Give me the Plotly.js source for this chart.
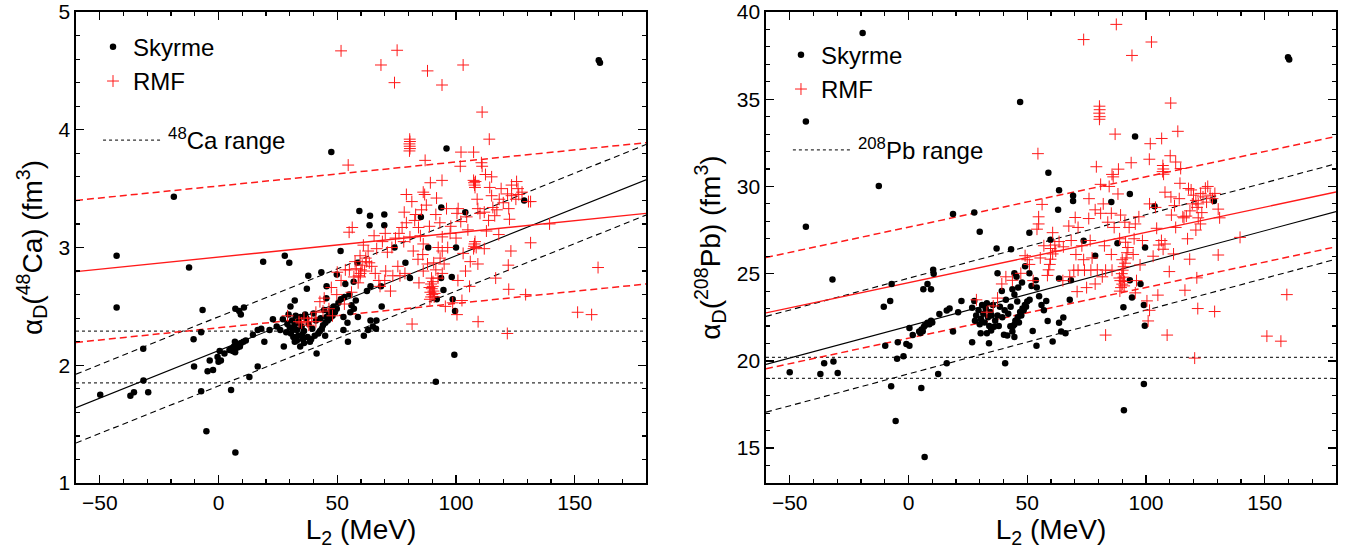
<!DOCTYPE html>
<html><head><meta charset="utf-8">
<script src="https://cdn.plot.ly/plotly-3.0.1.min.js"></script>
<style>html,body{margin:0;padding:0;background:#fff;}#chart{width:1355px;height:554px;}</style>
</head><body><div id="chart"></div>
<script>
// ---------- 48Ca panel data ----------
const caSkyX = [160.1,160.6,47.5,96,-18.8,-42.9,-42.9,-12.4,18.8,27.9,29.8,51.4,59.3,63.8,69.8,63.6,69.8,85.2,93.8,103.9,128.7,74.1,78.7,80.6,88.3,100,93.7,98.2,94.7,98.6,91.9,99.6,99.3,91.5,68.7,68.4,64,58.5,56.9,55.1,53.4,49.8,43.3,37.8,37.2,45.5,45.4,32.1,30.3,
-49.8,-37.1,-35.6,-31.6,-29.6,-31.7,-10.3,-10.5,-7.3,-6.7,-5.1,-7.3,-4.6,-2.3,-3.7,-0.4,0,1,0.5,2.5,5.3,7.1,6.9,4.6,7.1,9.4,10.7,8.7,
5.5,6.5,7.5,8.5,9.5,10.5,6,8,7,9,11.5,13,16.5,19.3,14.5,16.5,18,22.9,21.5,27.1,27.5,28.5,32.1,34.4,33,41.3,44.9,42.7,54.5,52.6,61.2,64,65,66.5,63,66.3,58.7,57,56,52.6,49.8,
49,48,47,46,45,44,48.5,47.5,46.5,45.5,
29,30,31,32,33,34,35,36,37,38,30.5,31.5,33.5,35.5,37.5,39,40.5,42,43.5,39.5,41,36.5,34.5,32.5,29.5,40,43,38.5,36,33.8,35.2,31.2,44.5,50.5,51.5,53,55.5,54.3,57.8,62.5,24.5,26];
const caSkyY = [4.59,4.57,3.81,3.84,3.43,2.93,2.49,2.83,2.88,2.93,2.87,2.97,3.31,3.27,3.28,3.19,3.19,3.26,3.34,3.30,3.40,3.00,2.87,2.74,3.00,3.00,2.74,2.75,2.64,2.56,2.56,2.46,2.09,1.86,2.50,2.67,2.67,2.87,2.71,2.60,2.69,2.77,2.79,2.76,2.65,2.67,2.57,2.55,2.50,
1.75,1.74,1.77,1.87,1.77,2.14,1.99,2.22,2.28,2.47,1.44,1.78,1.95,1.96,2.04,2.07,2.03,2.04,2.12,2.10,1.79,1.26,2.20,2.13,2.48,2.43,2.49,2.46,
2.14,2.16,2.17,2.18,2.19,2.20,2.12,2.15,2.11,2.16,2.21,1.90,1.99,2.20,2.26,2.30,2.31,2.39,2.30,2.39,2.16,2.28,2.20,2.16,2.21,2.10,2.25,2.29,2.20,2.30,2.25,2.38,2.33,2.38,2.30,2.31,2.41,2.48,2.51,2.41,2.48,
2.45,2.42,2.40,2.38,2.36,2.34,2.50,2.47,2.44,2.41,
2.35,2.32,2.38,2.34,2.30,2.36,2.33,2.29,2.40,2.35,2.27,2.24,2.25,2.22,2.24,2.22,2.25,2.27,2.31,2.31,2.38,2.43,2.41,2.42,2.43,2.44,2.40,2.20,2.19,2.37,2.26,2.30,2.47,2.53,2.56,2.58,2.45,2.36,2.55,2.63,2.33,2.30];

const caRmfX = [51.6,75.2,68.4,74.1,88,94.1,103,111,114,80.5,80.6,80.4,80.5,80.6,80.4,87,102.1,107.4,101.8,110.7,111,54.6,94.1,89.2,86.2,86.8,79.1,81.4,
107.4,107.6,107.8,108,108.9,108.2,112.4,115,114.2,115,123.4,125.5,
119,121.7,118.2,119.9,122.2,117.2,116.3,113.7,110.1,109.2,111.9,100.9,100.4,122.5,126.1,127.8,130.5,126.4,131.4,123.4,125.2,115.5,
139.4,131.4,159.8,151.2,157.1,129.3,121.6,122.2,122,116.7,123.1,109.3,105.7,100.4,98.6,81.5,
89,89.5,90,89.2,90.5,89.8,90.2,89.5,90.8,91,88.8,90.3,
109.2,107.4,107.6,107.8,108,108.5,112.8,118,111.9,
55,56.3,61,59.6,59.6,59.8,60,62.2,63.5,62,66.6,71.1,70.4,73.4,76.4,78.5,75.5,72.4,68,70.2,77.3,79.1,82.6,84.2,80.6,86.2,88.8,93.2,91.5,96,97.8,94.2,92.5,94.2,93.3,90.6,91.5,94.2,92.4,89.7,86.2,84.4,
48,44.5,42.7,41,41,39.2,37.5,33.9,29.1,49.8,51.6,50,53.4,55.1,57,
57.5,58,59,60.5,61.5,64.5,66,67.5,70,73,74.5,76,78,82,84,86,88,95,96.5,97.5,102,104.5,105,100,103,106,104,100.8,102.5,95.5,85,83,87.5,91.8,85.5,78.2,69,65.5,63,58.8,56,53,46.5,44,38,36,35,47.5];
const caRmfY = [4.67,4.675,4.55,4.40,4.50,4.38,4.55,4.15,3.92,3.92,3.90,3.88,3.86,3.84,3.82,3.74,3.81,3.81,3.69,3.72,3.69,3.70,3.57,3.55,3.47,3.45,3.45,3.39,
3.57,3.55,3.53,3.51,3.41,3.56,3.62,3.60,3.51,3.44,3.53,3.56,
3.50,3.455,3.41,3.38,3.33,3.32,3.27,3.23,3.29,3.33,3.30,3.33,3.29,3.24,3.50,3.47,3.39,3.45,3.39,3.44,3.41,3.34,
3.20,3.04,2.83,2.45,2.43,2.60,2.27,2.645,2.85,2.74,2.97,2.37,2.67,2.43,2.53,2.35,
2.56,2.58,2.60,2.62,2.63,2.65,2.67,2.69,2.58,2.61,2.66,2.71,
2.86,2.99,3.01,3.03,3.05,3.00,3.14,3.11,2.99,
3.13,3.17,3.02,2.93,2.75,2.78,2.81,2.88,2.87,2.91,2.99,2.96,2.80,2.76,2.76,2.78,2.84,2.63,2.67,3.12,3.17,3.21,3.23,3.17,3.09,3.03,3.18,3.21,3.28,3.33,3.18,3.09,3.00,2.97,2.91,2.87,2.81,2.78,2.74,2.74,2.80,2.70,
2.42,2.57,2.54,2.45,2.37,2.40,2.37,2.37,2.42,2.60,2.72,2.79,2.81,2.81,2.75,
2.88,2.82,2.76,2.85,2.80,2.84,2.78,2.72,2.72,3.00,3.08,3.12,3.05,2.97,2.90,2.94,2.86,2.86,3.00,3.12,3.22,3.26,3.15,3.08,2.95,2.88,2.80,2.72,2.55,2.50,3.10,3.28,3.36,3.42,3.32,3.30,3.05,3.10,2.97,2.70,2.62,2.52,2.48,2.46,2.34,2.40,2.36,2.66];

// ---------- 208Pb panel data ----------
const pbSkyX = [-19.3,-43.2,-43.2,-12.5,-32,47,95.4,159.8,160.3,58.9,63.4,63,69.3,69.3,85.4,93.2,103.6,128.6,18.75,27.7,30,37.1,43.2,50.9,59.8,73.75,78.6,88,99.6,10.4,10.6,8,9.5,6.25,-7.1,-7.7,-10.4,-9.8,-4.5,-2.1,-4.8,-7.3,-5.4,5.4,6.8,-50,-37.1,-35.5,-31.6,-29.8,12.5,16.1,18.75,40.7,99.1,90.7,90.5,94.1,93.2,97.7,99.5,99.1,58,58.6,63.4,65.2,64.3,66.1,60.7,53.9,52.3,67.9,68.4,63.4,49.1,50.9,53.6,44.6,45.5,37.5,43.75,39.3,44.6,27.7,22.3,26.8,26.8,33.9,30.4,33,34.8,40.2,43.75,41.6,44.6,44.6,42.9,16.1,13,17.3,20.9,8,9.5,6.5,4.5,1.8,0.4,-0.9,0.4,5.5,7,8.8,10,5,6,
28.5,29.5,30.5,31.5,32.5,33.5,34.5,35.5,36.5,37.5,38.5,30,32,34,36,28,31,33,35,46,47,48,49,50,46.5,47.5,48.5,49.5,45,51,42,40.5,43,45.8,39.5,41,44,38,55,57,56,54,51.8,46.2,47.8];
const pbSkyY = [38.79,33.72,27.69,30.02,24.66,34.84,32.87,37.41,37.27,30.79,29.78,28.66,29.47,29.17,29.11,29.57,28.87,29.17,28.42,28.50,27.41,26.44,26.40,27.35,26.94,26.88,26.03,26.74,26.50,25.22,25.0,24.41,24.1,24.1,24.41,23.44,23.1,20.87,21.07,20.26,20.12,18.54,16.56,18.44,14.49,19.35,19.25,19.86,19.96,19.31,19.25,19.86,21.68,19.86,18.68,17.17,23.08,23.64,24.62,24.41,22.02,23.2,23.44,22.29,22.19,22.49,21.68,21.58,21.11,20.87,21.72,23.5,24.62,24.72,25.43,25.02,24.62,25.02,24.82,25.02,24.11,24.0,23.8,23.44,23.44,23.04,21.07,21.01,21.58,21.58,21.74,21.5,21.68,21.46,21.37,22.08,21.98,22.89,22.69,23.0,22.79,22.19,22.3,21.95,21.68,21.48,21.88,20.97,20.87,21.8,22.05,22.1,22.2,21.6,21.7,
22.6,22.9,22.4,22.7,23.0,22.5,22.8,23.2,22.3,22.6,23.1,22.1,22.2,22.0,21.95,22.3,23.2,23.3,22.6,22.5,22.8,23.0,23.2,23.4,22.2,22.6,22.9,23.1,22.3,23.5,22.7,22.9,23.1,23.4,22.5,23.5,22.0,22.0,23.7,22.9,23.2,24.2,24.3,24.2,24.5];

const pbRmfX = [87.5,73.75,102.3,94.1,110.4,80.4,80.5,80.3,80.5,80.4,113.4,87,106.6,101.8,110.2,101.4,112.5,93.75,54.5,107.1,107.3,107.0,107.4,114.6,85.7,86.2,79.1,88.4,80.9,108,114.3,117.9,130.4,56.25,88.2,110.7,115.5,122.9,112.5,139.6,130.4,111.6,105.4,106.5,107.2,108,117.5,118.4,109.8,121.4,116.4,105,100.4,101.5,100.9,121.8,128.9,108.9,120.5,150.9,156.8,159.3,83,
119,120,121,122,123,124,125,126,127,128,119.5,121.5,123.5,125.5,129,118.5,117,122,
89,89.5,90,89.2,90.5,89.8,90.2,90.8,91,88.8,90.6,91.2,91.6,92,92.4,91.4,
79.5,76.8,74.1,83,85.7,71.4,69.6,78.6,81.6,71,67.9,
63.4,61.6,59.8,60.7,59.8,59.5,59,58.5,62,
54.8,54.8,54.1,60.7,65.2,67.5,70.2,71.4,75.9,78.6,80.9,83.9,85.4,86.6,89.3,91.1,92.9,95.5,97,95,88.9,94.6,90,85.4,70.5,73.75,77.3,
50.9,49.1,50,43.75,41,39.3,37.5,35.7,33,28.6,47.3,52.5,55.5,57,65,75,73,68.5,76.5,82.5,97.5,96,95.5,98.5,103,104,101.5,104.5,112,110.5,114,116,121,131,82,76,84.5];
const pbRmfY = [39.29,38.42,38.28,37.51,34.78,34.6,34.4,34.2,34.0,33.85,33.16,33.0,32.75,32.45,31.76,31.56,31.40,31.36,31.88,31.2,31.0,30.85,30.7,31.03,30.69,30.55,31.13,30.99,30.12,29.67,30.18,29.88,28.7,28.97,29.57,28.36,28.26,27.85,27.65,27.08,26.07,26.13,26.64,26.9,26.4,26.7,27.0,25.83,25.12,24.76,24.05,23.77,23.44,22.9,22.29,23.0,22.83,21.48,20.16,21.42,21.13,23.8,21.48,
29.8,29.5,29.2,29.0,29.6,29.4,29.9,30.0,29.5,29.3,29.0,28.8,28.5,29.1,29.6,28.6,28.3,28.2,
24.0,24.2,24.4,24.6,24.8,25.0,25.2,24.3,24.55,24.75,25.4,25.6,25.9,26.2,26.5,26.8,
25.22,25.2,25.2,25.2,25.2,25.2,25.2,24.41,24.82,23.97,24.82,
26.84,26.64,26.44,26.13,25.83,25.53,25.22,24.9,26.3,
28.26,27.85,27.55,27.35,26.54,27.73,28.22,27.65,28.16,28.66,28.46,27.95,28.46,27.65,28.36,27.95,27.65,27.85,28.26,27.0,27.0,26.1,25.8,26.1,26.1,25.8,25.9,
25.53,26.03,25.8,24.62,24.82,24.41,23.6,23.15,22.79,23.5,25.02,24.6,25.9,26.6,24.6,24.2,26.6,26.9,26.9,26.6,25.5,24.6,23.9,26.9,26.0,28.8,29.0,27.6,28.9,29.4,29.3,28.2,27.5,28.2,29.0,29.3,30.0];

// ---------- fit lines (values at L2 = -60 and 180) and experimental ranges ----------
const fitX = [-60, 180];
const caSkyFit = [1.64, 3.575], caSkyUp = [1.924, 3.875], caSkyLo = [1.34, 3.275];
const caRmfFit = [2.795, 3.29], caRmfUp = [3.40, 3.89], caRmfLo = [2.194, 2.69];
const caRange = [1.85, 2.29];
const pbSkyFit = [19.8, 28.56], pbSkyUp = [22.55, 31.3], pbSkyLo = [17.06, 25.83];
const pbRmfFit = [22.75, 29.68], pbRmfUp = [25.93, 32.87], pbRmfLo = [19.55, 26.54];
const pbRange = [19.0, 20.2];

const FONT = "Arial, 'Liberation Sans', sans-serif";

function lineTrace(ys, xa, ya, color, dash, width) {
  return {x: fitX, y: ys, xaxis: xa, yaxis: ya, mode: 'lines', showlegend: false,
          line: {color: color, dash: dash, width: width}, hoverinfo: 'skip'};
}
function rangeTraces(vals, xa, ya, name, leg) {
  return vals.map((v, i) => ({x: fitX, y: [v, v], xaxis: xa, yaxis: ya, mode: 'lines',
    name: name, legend: leg, showlegend: i === 0,
    line: {color: '#333', dash: 'dot', width: 1.3}, hoverinfo: 'skip'}));
}
function panel(xa, ya, sx, sy, rx, ry, fits, range, rangeName, legA, legB) {
  return [
    ...rangeTraces(range, xa, ya, rangeName, legB),
    lineTrace(fits[0], xa, ya, '#000', 'solid', 1.1),
    lineTrace(fits[1], xa, ya, '#000', '6px,4px', 1.1),
    lineTrace(fits[2], xa, ya, '#000', '6px,4px', 1.1),
    lineTrace(fits[3], xa, ya, '#ff1a1a', 'solid', 1.4),
    lineTrace(fits[4], xa, ya, '#ff1a1a', '7px,4px', 1.5),
    lineTrace(fits[5], xa, ya, '#ff1a1a', '7px,4px', 1.5),
    {x: sx, y: sy, xaxis: xa, yaxis: ya, mode: 'markers', name: 'Skyrme', legend: legA,
     marker: {symbol: 'circle', size: 6.5, color: '#000'}},
    {x: rx, y: ry, xaxis: xa, yaxis: ya, mode: 'markers', name: 'RMF', legend: legA,
     marker: {symbol: 'cross-thin', size: 8.5, color: '#ff1a1a', line: {color: '#ff1a1a', width: 1}}}
  ];
}

const data = [
  ...panel('x', 'y', caSkyX, caSkyY, caRmfX, caRmfY,
           [caSkyFit, caSkyUp, caSkyLo, caRmfFit, caRmfUp, caRmfLo], caRange,
           '<sup>48</sup>Ca range', 'legend', 'legend2'),
  ...panel('x2', 'y2', pbSkyX, pbSkyY, pbRmfX, pbRmfY,
           [pbSkyFit, pbSkyUp, pbSkyLo, pbRmfFit, pbRmfUp, pbRmfLo], pbRange,
           '<sup>208</sup>Pb range', 'legend3', 'legend4')
];

function xax(domain) {
  return {domain: domain, range: [-60, 180], dtick: 50, tick0: 0,
    ticks: 'inside', ticklen: 8, tickwidth: 1.3, tickcolor: '#000',
    minor: {dtick: 10, ticks: 'inside', ticklen: 4, tickwidth: 1.2, tickcolor: '#000'},
    showline: true, linecolor: '#000', linewidth: 1.6, mirror: 'allticks',
    showgrid: false, zeroline: false, ticklabeloverflow: 'allow',
    tickfont: {size: 21, color: '#000', family: FONT},
    title: {text: 'L<sub>2</sub> (MeV)', font: {size: 28, color: '#000', family: FONT}, standoff: 3}};
}
function yax(range, dtick, minor, anchor, title) {
  return {range: range, dtick: dtick, tick0: 0, anchor: anchor,
    ticks: 'inside', ticklen: 8, tickwidth: 1.3, tickcolor: '#000',
    minor: {dtick: minor, ticks: 'inside', ticklen: 4, tickwidth: 1.2, tickcolor: '#000'},
    showline: true, linecolor: '#000', linewidth: 1.6, mirror: 'allticks',
    showgrid: false, zeroline: false, ticklabeloverflow: 'allow',
    tickfont: {size: 21, color: '#000', family: FONT},
    title: {text: title, font: {size: 28, color: '#000', family: FONT}, standoff: 8}};
}
function leg(x, y, w) {
  return {x: x, y: y, xanchor: 'left', yanchor: 'top', bgcolor: 'rgba(0,0,0,0)',
    font: {size: 24, color: '#000', family: FONT}, tracegroupgap: 0, itemwidth: w};
}

const layout = {
  width: 1355, height: 554,
  margin: {l: 76, r: 19, t: 12, b: 71},
  paper_bgcolor: '#fff', plot_bgcolor: '#fff',
  font: {family: FONT, color: '#000'},
  showlegend: true,
  xaxis: xax([0, 0.4524]),
  xaxis2: Object.assign(xax([0.5476, 1]), {anchor: 'y2'}),
  yaxis: yax([1, 5], 1, 0.2, 'x', 'α<sub>D</sub>(<sup>48</sup>Ca) (fm<sup>3</sup>)'),
  yaxis2: yax([13, 40], 5, 1, 'x2', 'α<sub>D</sub>(<sup>208</sup>Pb) (fm<sup>3</sup>)'),
  legend: leg(0.0135, 0.973, 30),
  legend2: leg(0.0175, 0.775, 60),
  legend3: leg(0.5595, 0.956, 30),
  legend4: leg(0.565, 0.754, 60)
};

Plotly.newPlot('chart', data, layout, {displayModeBar: false, staticPlot: true});
</script>
</body></html>
